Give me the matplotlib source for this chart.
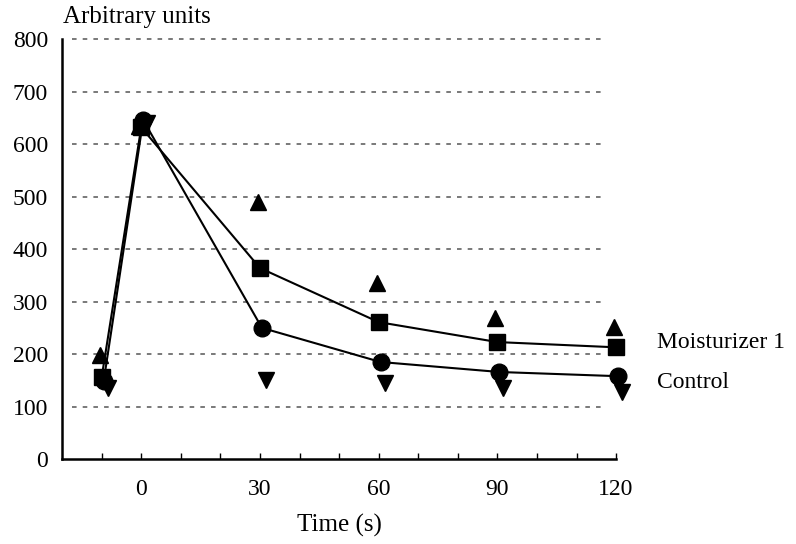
import matplotlib
matplotlib.use("Agg")
import matplotlib.pyplot as plt

time_s = [-10, 0, 30, 60, 90, 120]
moisturizer1 = [156, 632, 364, 261, 223, 213]   # squares, connected
control = [148, 646, 250, 185, 166, 158]        # circles, connected
tri_up = [198, 635, 490, 335, 269, 251]         # up triangles
tri_down = [135, 640, 150, 145, 135, 128]       # down triangles

xticks = [0, 30, 60, 90, 120]
yticks = [0, 100, 200, 300, 400, 500, 600, 700, 800]

plt.rcParams['font.family'] = ['Liberation Serif', 'DejaVu Serif']

fig = plt.figure(figsize=(7.96, 5.44), dpi=100)
ax = fig.add_axes([0.078, 0.156, 0.696, 0.772])

def shift(xs, d):
    return [x + d for x in xs]

ax.plot(shift(time_s, 1.5), tri_down, linestyle='none', marker='v', ms=11,
        color='black', zorder=3, clip_on=False)
ax.plot(shift(time_s, -0.5), tri_up, linestyle='none', marker='^', ms=11,
        color='black', zorder=3, clip_on=False)
ax.plot(time_s, moisturizer1, '-', marker='s', ms=12, color='black', lw=1.5,
        zorder=4, clip_on=False)
ax.plot(shift(time_s, 0.5), control, '-', marker='o', ms=12, color='black',
        lw=1.5, zorder=4, clip_on=False)

ax.set_xlim(-20, 120)
ax.set_ylim(0, 800)
ax.set_xticks(xticks)
ax.set_xticks(list(range(-10, 121, 10)), minor=True)
ax.set_yticks(yticks)
ax.tick_params(axis='x', which='both', direction='in', length=4, width=1,
               labelsize=17, pad=14)
ax.tick_params(axis='y', length=0, labelsize=17, pad=10)

ax.hlines(yticks[1:], -17.5, 117, colors='#555555', lw=1.1,
          linestyles=(0, (3, 4)), zorder=1, clip_on=False)

for s in ['top', 'right']:
    ax.spines[s].set_visible(False)
ax.spines['left'].set_linewidth(1.8)
ax.spines['bottom'].set_linewidth(1.8)

ax.set_xlabel('Time (s)', fontsize=18, labelpad=10)
fig.text(0.079, 0.968, 'Arbitrary units', fontsize=18, ha='left', va='center')

ax.annotate('Moisturizer 1', xy=(1.0, 0), xycoords='axes fraction',
            xytext=(657, 544 - 342), textcoords='figure pixels',
            fontsize=17, va='center', ha='left')
ax.annotate('Control', xy=(1.0, 0), xycoords='axes fraction',
            xytext=(657, 544 - 382), textcoords='figure pixels',
            fontsize=17, va='center', ha='left')

fig.savefig('out.png', dpi=100)
